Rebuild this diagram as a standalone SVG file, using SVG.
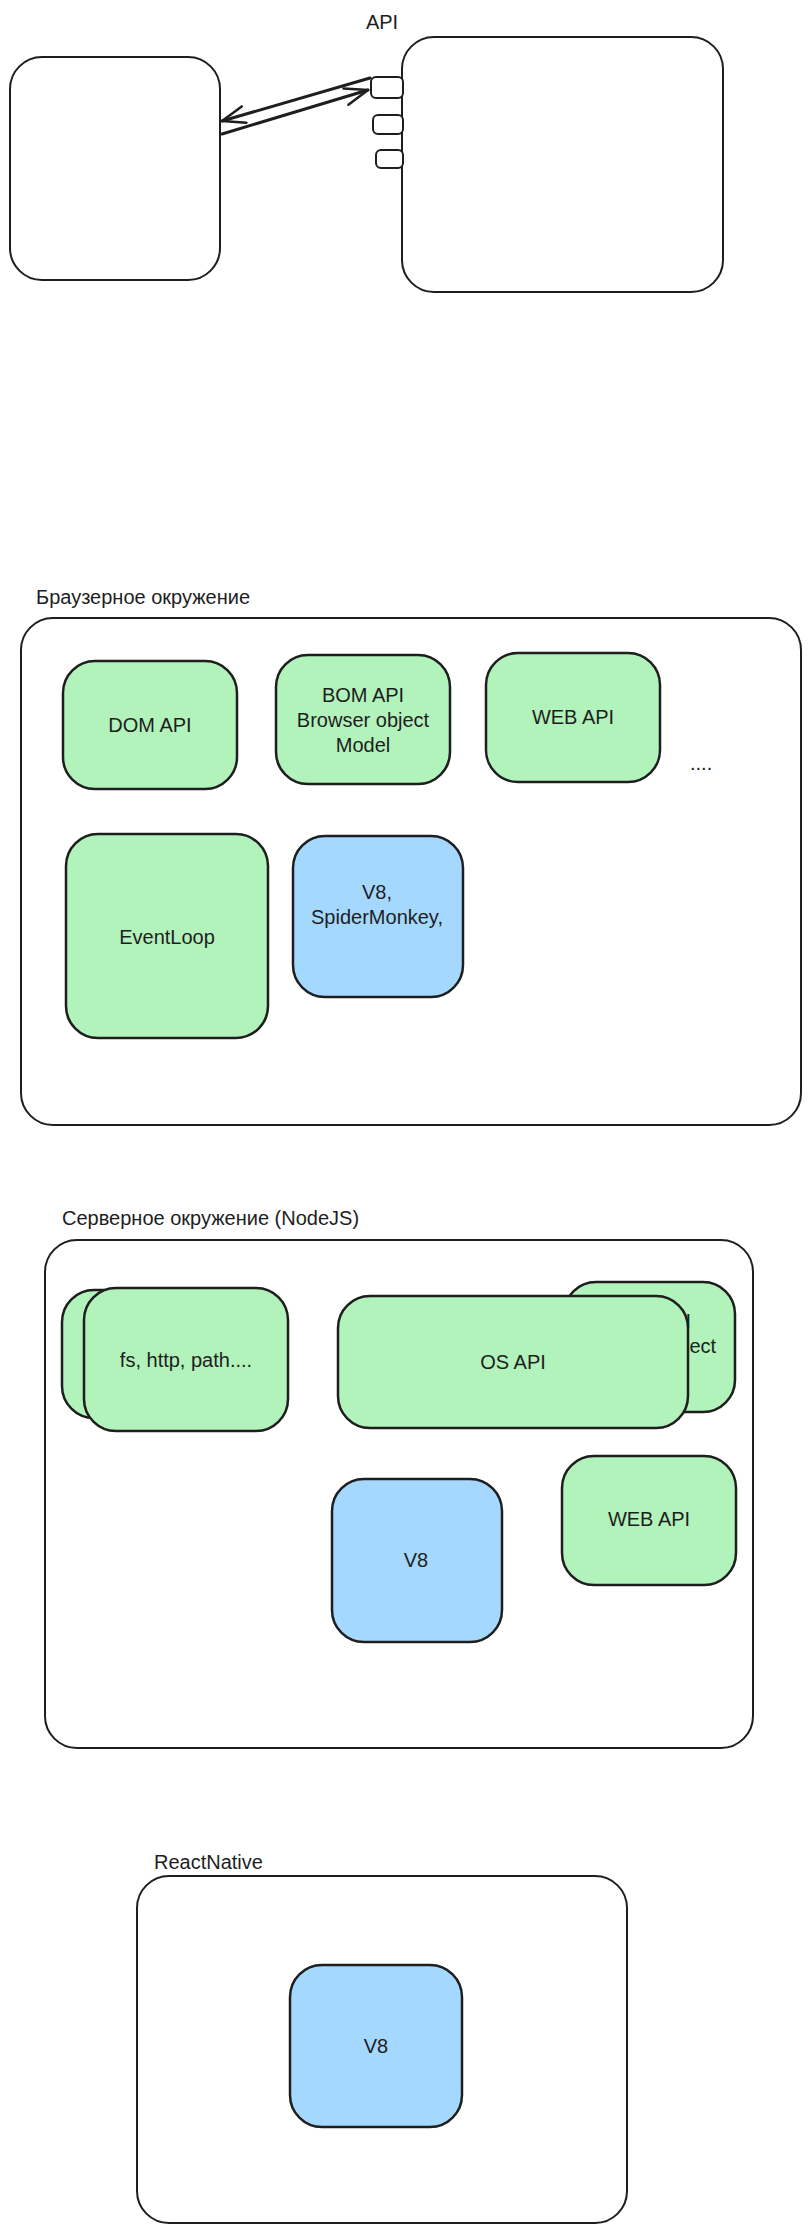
<svg xmlns="http://www.w3.org/2000/svg" width="812" height="2233" viewBox="0 0 812 2233">
<style>
.box{stroke:#1e1e1e;stroke-width:2;stroke-linejoin:round}
.w{fill:#ffffff}
.g{fill:#b2f2bb;stroke-width:2.5}
.b{fill:#a5d8ff;stroke-width:2.5}
.t{font-family:"Liberation Sans",Arial,"Noto Sans",sans-serif;font-size:20px;fill:#1e1e1e}
.c{text-anchor:middle;dominant-baseline:central}
.l{text-anchor:start;dominant-baseline:central}
.arr{fill:none;stroke:#1e1e1e;stroke-width:3;stroke-linecap:round}
</style>
<defs>
<marker id="ah" markerUnits="userSpaceOnUse" orient="auto" overflow="visible" refX="0" refY="0" markerWidth="30" markerHeight="30">
<path d="M-23,-8.5 L0,0 L-23,8.5" fill="none" stroke="#1e1e1e" stroke-width="2.5" stroke-linecap="round" stroke-linejoin="round"/>
</marker>
</defs>
<rect x="0" y="0" width="812" height="2233" fill="#ffffff"/>

<!-- Section 1 -->
<g id="client">
<rect class="box w" x="10" y="57" width="210" height="223" rx="32"/>
</g>
<g id="server">
<rect class="box w" x="402" y="37" width="321" height="255" rx="32"/>
</g>
<g id="port1"><rect class="box w" x="371" y="77" width="32" height="21" rx="5"/></g>
<g id="port2"><rect class="box w" x="373" y="115" width="30" height="19" rx="5"/></g>
<g id="port3"><rect class="box w" x="376" y="150" width="27" height="18" rx="5"/></g>
<g id="api-label"><text class="t c" x="382" y="22">API</text></g>
<g id="connectors">
<path class="arr" d="M370,78 L222,121" marker-end="url(#ah)"/>
<path class="arr" d="M222,134 L368,90" marker-end="url(#ah)"/>
</g>

<!-- Section 2: browser -->
<g id="browser-label"><text class="t l" x="36" y="597">Браузерное окружение</text></g>
<g id="browser">
<rect class="box w" x="21" y="618" width="780" height="507" rx="32"/>
</g>
<g id="dom-api">
<rect class="box g" x="63" y="661" width="174" height="128" rx="32"/>
<text class="t c" x="150" y="725">DOM API</text>
</g>
<g id="bom-api">
<rect class="box g" x="276" y="655" width="174" height="129" rx="32"/>
<text class="t c" x="363" y="695">BOM API</text>
<text class="t c" x="363" y="720">Browser object</text>
<text class="t c" x="363" y="745">Model</text>
</g>
<g id="web-api">
<rect class="box g" x="486" y="653" width="174" height="129" rx="32"/>
<text class="t c" x="573" y="717">WEB API</text>
</g>
<g id="dots"><text class="t l" x="690" y="763">....</text></g>
<g id="eventloop">
<rect class="box g" x="66" y="834" width="202" height="204" rx="32"/>
<text class="t c" x="167" y="937">EventLoop</text>
</g>
<g id="engine">
<rect class="box b" x="293" y="836" width="170" height="161" rx="32"/>
<text class="t c" x="377" y="892">V8,</text>
<text class="t c" x="377" y="917">SpiderMonkey,</text>
</g>

<!-- Section 3: server -->
<g id="node-label"><text class="t l" x="62" y="1218">Серверное окружение (NodeJS)</text></g>
<g id="node">
<rect class="box w" x="45" y="1240" width="708" height="508" rx="32"/>
</g>
<g id="node-back">
<rect class="box g" x="62" y="1290" width="174" height="128" rx="32"/>
</g>
<g id="node-modules">
<rect class="box g" x="84" y="1288" width="204" height="143" rx="32"/>
<text class="t c" x="186" y="1360">fs, http, path....</text>
</g>
<g id="node-bom">
<rect class="box g" x="564" y="1282" width="171" height="130" rx="32"/>
<text class="t c" x="650" y="1321">BOM API</text>
<text class="t c" x="650" y="1346">Browser object</text>
<text class="t c" x="650" y="1371">Model</text>
</g>
<g id="os-api">
<rect class="box g" x="338" y="1296" width="350" height="132" rx="32"/>
<text class="t c" x="513" y="1362">OS API</text>
</g>
<g id="node-web">
<rect class="box g" x="562" y="1456" width="174" height="129" rx="32"/>
<text class="t c" x="649" y="1519">WEB API</text>
</g>
<g id="node-v8">
<rect class="box b" x="332" y="1479" width="170" height="163" rx="32"/>
<text class="t c" x="416" y="1560">V8</text>
</g>

<!-- Section 4: React Native -->
<g id="rn-label"><text class="t l" x="154" y="1862">ReactNative</text></g>
<g id="rn">
<rect class="box w" x="137" y="1876" width="490" height="347" rx="32"/>
</g>
<g id="rn-v8">
<rect class="box b" x="290" y="1965" width="172" height="162" rx="32"/>
<text class="t c" x="376" y="2046">V8</text>
</g>
</svg>
